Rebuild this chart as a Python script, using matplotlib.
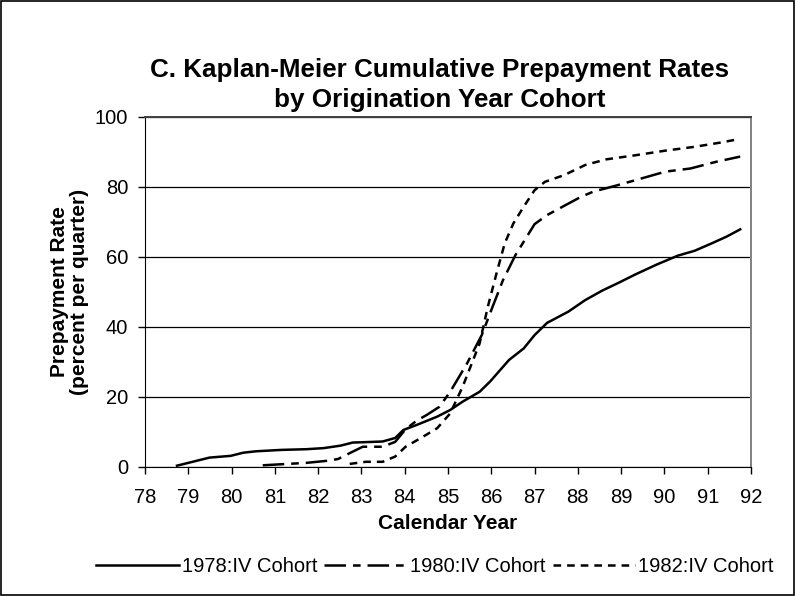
import matplotlib
matplotlib.use("Agg")
import matplotlib.pyplot as plt

plt.rcParams['font.family'] = ['Liberation Sans', 'DejaVu Sans']
plt.rcParams['lines.scale_dashes'] = False

x1978 = [78.74, 79.10, 79.49, 79.98, 80.27, 80.56, 81.15, 81.73, 82.12, 82.51, 82.80, 83.05,
         83.49, 83.78, 83.97, 84.27, 84.75, 85.05, 85.34, 85.73, 85.97, 86.41, 86.75, 87.00,
         87.29, 87.78, 88.17, 88.56, 88.95, 89.34, 89.83, 90.31, 90.70, 91.09, 91.43, 91.75]
y1978 = [0.3, 1.4, 2.6, 3.1, 4.0, 4.4, 4.8, 5.0, 5.3, 6.0, 6.9, 7.0,
         7.2, 8.2, 10.5, 11.9, 14.3, 16.2, 18.6, 21.4, 24.3, 30.5, 33.8, 37.6,
         41.1, 44.3, 47.6, 50.3, 52.6, 55.0, 57.8, 60.3, 61.7, 63.8, 65.7, 67.8]

x1980 = [80.72, 81.15, 81.73, 82.22, 82.46, 82.75, 83.03, 83.49, 83.78, 84.02, 84.27, 84.51,
         84.80, 85.05, 85.44, 85.78, 86.03, 86.27, 86.56, 87.00, 87.29, 87.68, 88.07, 88.36,
         88.85, 89.34, 90.02, 90.60, 91.19, 91.75]
y1980 = [0.4, 0.7, 1.1, 1.7, 2.2, 4.0, 5.7, 5.7, 7.1, 10.7, 13.1, 14.8,
         17.1, 21.4, 29.5, 37.6, 45.7, 53.3, 60.5, 69.3, 71.9, 74.5, 77.1, 78.6,
         80.2, 81.9, 84.3, 85.2, 87.1, 88.6]

x1982 = [82.73, 83.10, 83.49, 83.78, 84.02, 84.36, 84.75, 85.05, 85.34, 85.73, 85.92, 86.12,
         86.31, 86.51, 86.75, 87.00, 87.24, 87.68, 88.17, 88.65, 89.34, 90.02, 90.70, 91.29, 91.68]
y1982 = [0.8, 1.4, 1.4, 2.9, 5.7, 8.1, 11.0, 15.2, 22.9, 35.2, 45.7, 55.2,
         63.8, 69.5, 74.3, 79.0, 81.4, 83.3, 86.2, 87.8, 89.0, 90.3, 91.4, 92.6, 93.5]

labels = ['1978:IV Cohort', '1980:IV Cohort', '1982:IV Cohort']
xticks = list(range(78, 93))
yticks = [0, 20, 40, 60, 80, 100]

fig = plt.figure(figsize=(7.96, 5.96), dpi=100)
fig.patch.set_facecolor('white')
fig.add_artist(plt.Rectangle((0.001, 0.001), 0.997, 0.997, transform=fig.transFigure,
                             fill=False, edgecolor='black', linewidth=1.2))

ax = fig.add_axes([145 / 796, 1 - 466.7 / 596, (751 - 145) / 796, (466.7 - 116.7) / 596])
lw = 1.8
l1, = ax.plot(x1978, y1978, color='black', linewidth=lw, label=labels[0])
l2, = ax.plot(x1980, y1980, color='black', linewidth=lw, label=labels[1])
l2.set_dashes((15.5, 5, 5.5, 5))
l3, = ax.plot(x1982, y1982, color='black', linewidth=lw, label=labels[2])
l3.set_dashes((5.5, 4.3))

ax.set_xlim(78, 92)
ax.set_ylim(0, 100)
ax.set_xticks(xticks)
ax.set_xticklabels([str(v) for v in xticks], fontsize=14.5)
ax.set_yticks(yticks)
ax.set_yticklabels([str(v) for v in yticks], fontsize=14.5)
ax.tick_params(axis='both', direction='out', length=5, width=1, colors='black')
ax.tick_params(axis='x', pad=10.5)
ax.tick_params(axis='y', pad=7)
ax.yaxis.grid(True, color='black', linewidth=0.9)
ax.set_axisbelow(True)
ax.spines['top'].set_color('#404040')
ax.spines['right'].set_color('#808080')
ax.spines['top'].set_linewidth(1.4)
ax.spines['right'].set_linewidth(1.4)
ax.spines['left'].set_color('black')
ax.spines['bottom'].set_color('black')

ax.set_xlabel('Calendar Year', fontsize=15, fontweight='bold', labelpad=5)
ax.set_ylabel('Prepayment Rate\n(percent per quarter)', fontsize=15, fontweight='bold',
              labelpad=4, linespacing=1.1)

fig.text(440 / 796, 1 - 85 / 596,
         'C. Kaplan-Meier Cumulative Prepayment Rates\nby Origination Year Cohort',
         ha='center', va='center', fontsize=18.7, fontweight='bold', linespacing=1.35)

fig.legend(handles=[l1, l2, l3], loc='center', bbox_to_anchor=(435 / 796, 1 - 567 / 596), ncol=3,
           frameon=False, fontsize=14.5, handlelength=4.1, handletextpad=0.15,
           columnspacing=0.35, borderaxespad=0, borderpad=0)

fig.savefig('out.png', dpi=100, facecolor='white')
